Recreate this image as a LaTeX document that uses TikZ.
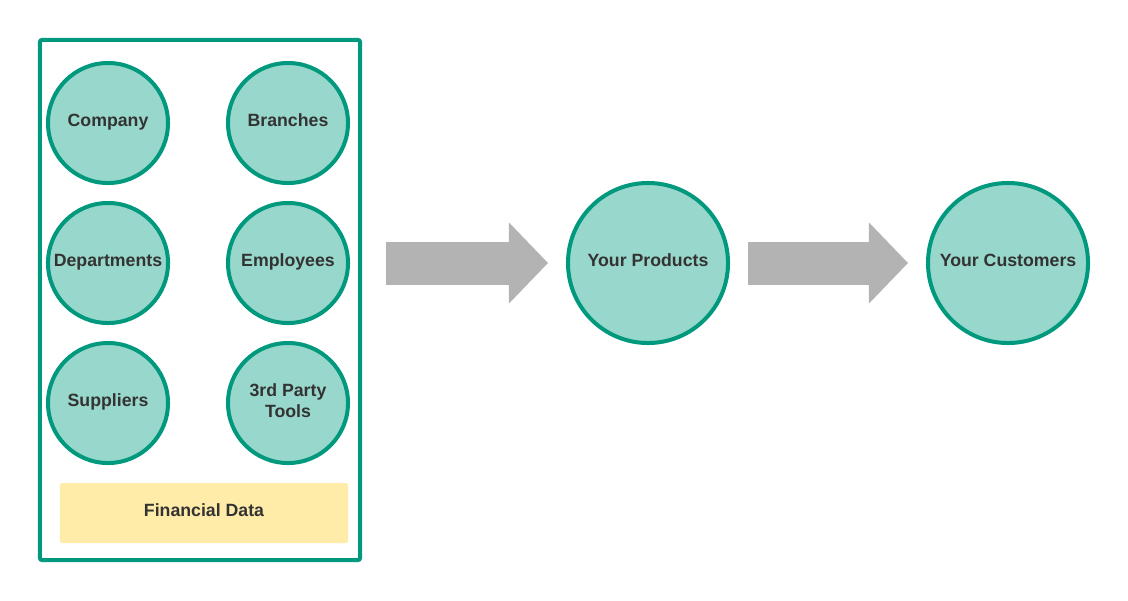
\documentclass[tikz,border=0pt]{standalone}
\usepackage{fontspec}
\setmainfont{Liberation Sans}
\usetikzlibrary{arrows.meta}
\definecolor{tealline}{HTML}{00997D}
\definecolor{tealfill}{HTML}{98D7CB}
\definecolor{notefill}{HTML}{FFECA8}
\definecolor{flowgray}{HTML}{B3B3B3}
\definecolor{textgray}{HTML}{333333}
\begin{document}
\begin{tikzpicture}[x=0.025cm, y=-0.025cm,
  font=\fontsize{12.6}{15.4}\selectfont\bfseries, text=textgray]
\useasboundingbox (0,0) rectangle (1128,600);
\node[draw=tealline, line width=0.1cm, rounded corners=1.5pt,
  minimum width=8cm, minimum height=13cm] (source) at (200,300) {};
\node[fill=notefill, rounded corners=1.5pt, minimum width=7.2cm,
  minimum height=1.5cm, text height=8pt, text depth=2.7pt] (finance) at (204,513) {Financial Data};
\begin{scope}[every node/.style = {circle, draw=tealline, fill=tealfill,
  line width=0.1cm, minimum size=3cm, inner sep=0pt, align=center,
  text height=8pt, text depth=2.7pt}]
\node (company) at (108,123) {Company};
\node (branches) at (288,123) {Branches};
\node (departments) at (108,263) {Departments};
\node (employees) at (288,263) {Employees};
\node (suppliers) at (108,403) {Suppliers};
\node[text height=23.6pt] (tools) at (288,403) {3rd Party\\Tools};
\node[minimum size=4cm] (products) at (648,263) {Your Products};
\node[minimum size=4cm] (customers) at (1008,263) {Your Customers};
\end{scope}
\begin{scope}[every edge/.style = {draw=flowgray, line width=1.075cm,
  -{Triangle[length=0.975cm 0 0, width=2.025cm 0 0, line width=0pt 0 0]}}]
\path (source.east |- products) edge[shorten <=0.6cm, shorten >=0.45cm] (products.west);
\path (products.east) edge[shorten <=0.45cm, shorten >=0.45cm] (customers.west);
\end{scope}
\end{tikzpicture}
\end{document}
